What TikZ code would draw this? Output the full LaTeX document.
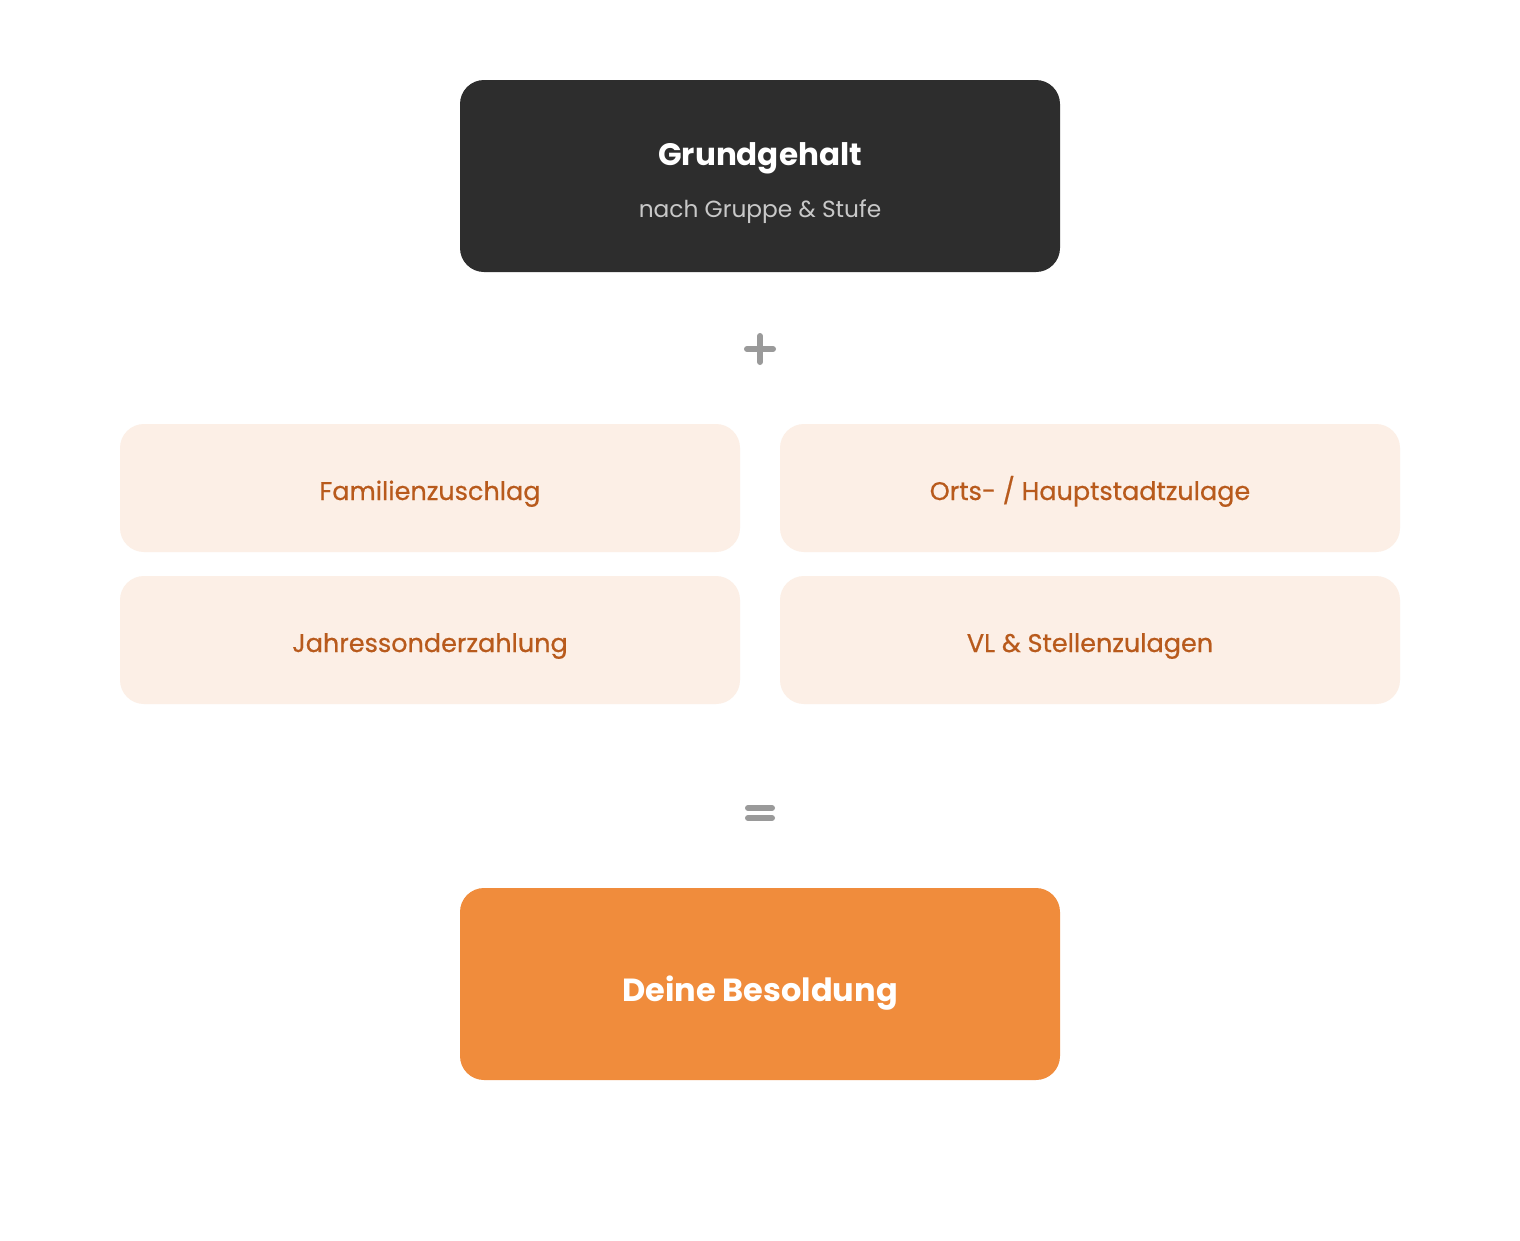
\documentclass[tikz,border=0pt]{standalone}
\usepackage{fontspec}
\setmainfont{Poppins}
\newfontfamily\medfont{Poppins}[FakeBold=0.6]
\definecolor{darkbox}{HTML}{2D2D2D}
\definecolor{subtxt}{HTML}{C8C8C8}
\definecolor{itemfill}{HTML}{FCEFE6}
\definecolor{itemtxt}{HTML}{B85A1C}
\definecolor{resfill}{HTML}{F08C3C}
\definecolor{opgray}{HTML}{9A9A9A}
\begin{document}
\begin{tikzpicture}[x=1pt,y=-1pt,
  box/.style={rounded corners=24pt,inner sep=0pt,outer sep=0pt},
  itembox/.style={box,fill=itemfill,minimum width=620pt,minimum height=128pt},
  itemtext/.style={text=itemtxt,font=\medfont\fontsize{25.5}{30}\selectfont,anchor=base,inner sep=0pt},
  opbar/.style={draw=opgray,line width=6pt,line cap=round}]
\useasboundingbox[fill=white] (0,0) rectangle (1520,1240);
\node[box,fill=darkbox,minimum width=600pt,minimum height=192pt] (base) at (760,176) {};
\node[text=white,font=\fontsize{31}{36}\selectfont\bfseries,anchor=base,inner sep=0pt] (baset) at (760,165) {Grundgehalt};
\node[text=subtxt,font=\fontsize{23.3}{27}\selectfont,anchor=base,inner sep=0pt] (bases) at (760,217) {nach Gruppe \& Stufe};
\coordinate (plus) at (760,349);
\draw[opbar] ([xshift=-13pt]plus) -- ([xshift=13pt]plus);
\draw[opbar] ([yshift=-13pt]plus) -- ([yshift=13pt]plus);
\node[itembox] (fam) at (430,488) {};
\node[itembox] (orts) at (1090,488) {};
\node[itembox] (jahr) at (430,640) {};
\node[itembox] (vl) at (1090,640) {};
\node[itemtext] (famt) at (430,500) {Familienzuschlag};
\node[itemtext] (ortst) at (1090,500) {Orts- / Hauptstadtzulage};
\node[itemtext] (jahrt) at (430,652) {Jahressonderzahlung};
\node[itemtext] (vlt) at (1090,652) {VL \& Stellenzulagen};
\coordinate (eq) at (760,813);
\draw[opbar] ([xshift=-12pt,yshift=-5pt]eq) -- ([xshift=12pt,yshift=-5pt]eq);
\draw[opbar] ([xshift=-12pt,yshift=5pt]eq) -- ([xshift=12pt,yshift=5pt]eq);
\node[box,fill=resfill,minimum width=600pt,minimum height=192pt] (res) at (760,984) {};
\node[text=white,font=\fontsize{32}{38}\selectfont\bfseries,anchor=base,inner sep=0pt] (rest) at (760,1001) {Deine Besoldung};
\end{tikzpicture}
\end{document}
